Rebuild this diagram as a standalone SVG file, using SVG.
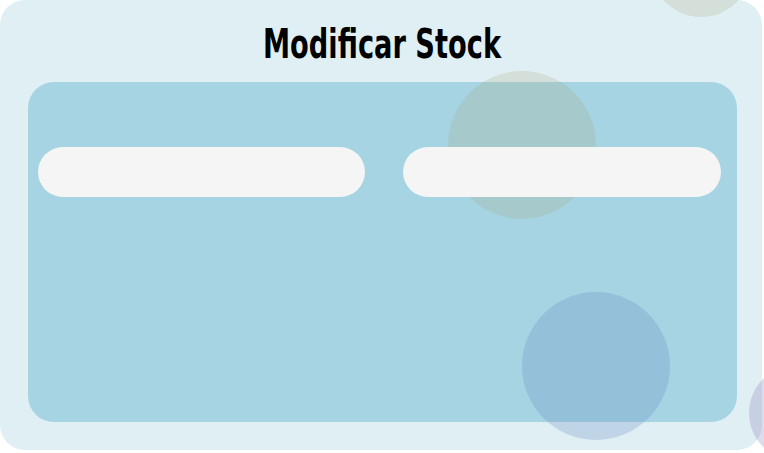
<svg xmlns="http://www.w3.org/2000/svg" width="764" height="453" viewBox="0 0 764 453">
<style>
.title{font-family:"Liberation Sans Narrow","DejaVu Sans Condensed","Liberation Sans",sans-serif;font-weight:bold;font-size:40px;fill:#000}
.pill{fill:#f5f5f5}
.bub-y{fill:rgb(165,170,120);fill-opacity:0.22}
.bub-b{fill:rgb(95,130,190);fill-opacity:0.25}
.bub-p{fill:rgb(125,115,175);fill-opacity:0.25}
</style>
<rect width="764" height="453" fill="#ffffff"/>
<g id="card">
<rect x="0" y="0" width="762" height="450" rx="25" fill="#e0eff4"/>
</g>
<g id="title">
<text class="title" x="382" y="58" text-anchor="middle" textLength="238" lengthAdjust="spacingAndGlyphs">Modificar Stock</text>
</g>
<g id="panel">
<rect x="28" y="82" width="709" height="340" rx="26" fill="#a7d4e3"/>
</g>
<g id="bubbles">
<circle class="bub-y" cx="701" cy="-33" r="50"/>
<circle class="bub-y" cx="522" cy="145" r="74"/>
<circle class="bub-b" cx="596" cy="366" r="74"/>
<circle class="bub-p" cx="797" cy="413" r="48"/>
</g>
<g id="field-left">
<rect class="pill" x="38" y="147" width="327" height="50" rx="25"/>
</g>
<g id="field-right">
<rect class="pill" x="403" y="147" width="318" height="50" rx="25"/>
</g>
<g id="connectors"/>
</svg>
